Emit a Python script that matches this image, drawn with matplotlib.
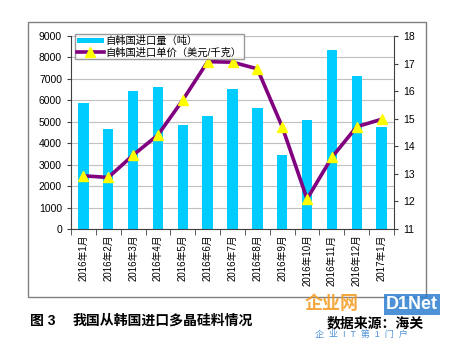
import matplotlib
matplotlib.use("Agg")
import matplotlib.pyplot as plt
import numpy as np
from matplotlib.patches import Rectangle

plt.rcParams['font.family'] = ['Liberation Sans', 'Noto Sans CJK SC', 'DejaVu Sans']

months = ["2016年1月", "2016年2月", "2016年3月", "2016年4月", "2016年5月", "2016年6月",
          "2016年7月", "2016年8月", "2016年9月", "2016年10月", "2016年11月", "2016年12月",
          "2017年1月"]
volume = [5860, 4660, 6440, 6610, 4850, 5270, 6530, 5640, 3440, 5090, 8370, 7120, 4740]
price = [12.93, 12.87, 13.68, 14.41, 15.68, 17.07, 17.05, 16.81, 14.71, 12.09, 13.6, 14.71, 14.98]

fig = plt.figure(figsize=(4.66, 3.39), dpi=100)
# outer frame
fig.patches.append(Rectangle((28 / 466, 1 - 297 / 339), (426 - 28) / 466, (297 - 22) / 339,
                             transform=fig.transFigure, fill=False, edgecolor="#808080", lw=1))

ax = fig.add_axes([71 / 466, 1 - 229 / 339, (394 - 71) / 466, (229 - 36) / 339])
x = np.arange(len(months))
bars = ax.bar(x, volume, 0.42, color="#00CCFF", label="自韩国进口量（吨）", zorder=2)
ax.set_ylim(0, 9000)
ax.set_yticks(range(0, 9001, 1000))
ax.set_xlim(-0.5, len(months) - 0.5)
ax.set_xticks(x)
ax.set_xticklabels(months, rotation=90, fontsize=7)
ax.set_xticks(np.arange(-0.5, len(months), 1), minor=True)
ax.tick_params(axis="x", which="major", length=0, pad=4)
ax.tick_params(axis="x", which="minor", length=4, color="#404040")
ax.tick_params(axis="y", labelsize=7.5, length=3, color="#404040")
ax.grid(axis="y", color="#C0C0C0", lw=0.8, zorder=0)
ax.spines[["top", "right"]].set_visible(False)
for s in ("left", "bottom"):
    ax.spines[s].set_color("#404040")

ax2 = ax.twinx()
line, = ax2.plot(x, price, color="#800080", lw=2.6, marker="^", markersize=7,
                 markerfacecolor="#FFFF00", markeredgecolor="#FFFF00",
                 label="自韩国进口单价（美元/千克）", zorder=3)
ax2.set_ylim(11, 18)
ax2.set_yticks(range(11, 19))
ax2.tick_params(axis="y", labelsize=7.5, length=3, color="#404040")
ax2.spines[["top", "left", "bottom"]].set_visible(False)
ax2.spines["right"].set_color("#404040")

leg = ax2.legend([bars, line], [bars.get_label(), line.get_label()],
                 loc="upper left", bbox_to_anchor=(0.012, 1.01), fontsize=7.4,
                 frameon=True, fancybox=False, borderpad=0.2, labelspacing=0.1,
                 handlelength=2.6, handleheight=0.5, handletextpad=0.2, borderaxespad=0)
leg.get_frame().set_edgecolor("#808080")
leg.get_frame().set_linewidth(1)

fig.text(30 / 466, 1 - 321 / 339, "图 3", fontsize=10, fontweight="bold", va="center")
fig.text(73 / 466, 1 - 321 / 339, "我国从韩国进口多晶硅料情况", fontsize=10,
         fontweight="bold", va="center")
fig.text(327 / 466, 1 - 323 / 339, "数据来源：海关", fontsize=10, fontweight="bold",
         va="center")
# watermark logo
fig.text(305 / 466, 1 - 313 / 339, "企业网", fontsize=13, fontweight="bold",
         color="#F39A1E", va="bottom", alpha=0.85)
fig.text(386 / 466, 1 - 313 / 339, "D1Net", fontsize=13, fontweight="bold",
         color="white", va="bottom",
         bbox=dict(boxstyle="square,pad=0.1", fc="#2E7FD0", ec="none", alpha=0.85))
fig.text(315 / 466, 1 - 334 / 339, "企  业  I  T  第  1  门  户", fontsize=6.5,
         color="#2E7FD0", va="center", alpha=0.85)

fig.savefig("out.png", dpi=100)
